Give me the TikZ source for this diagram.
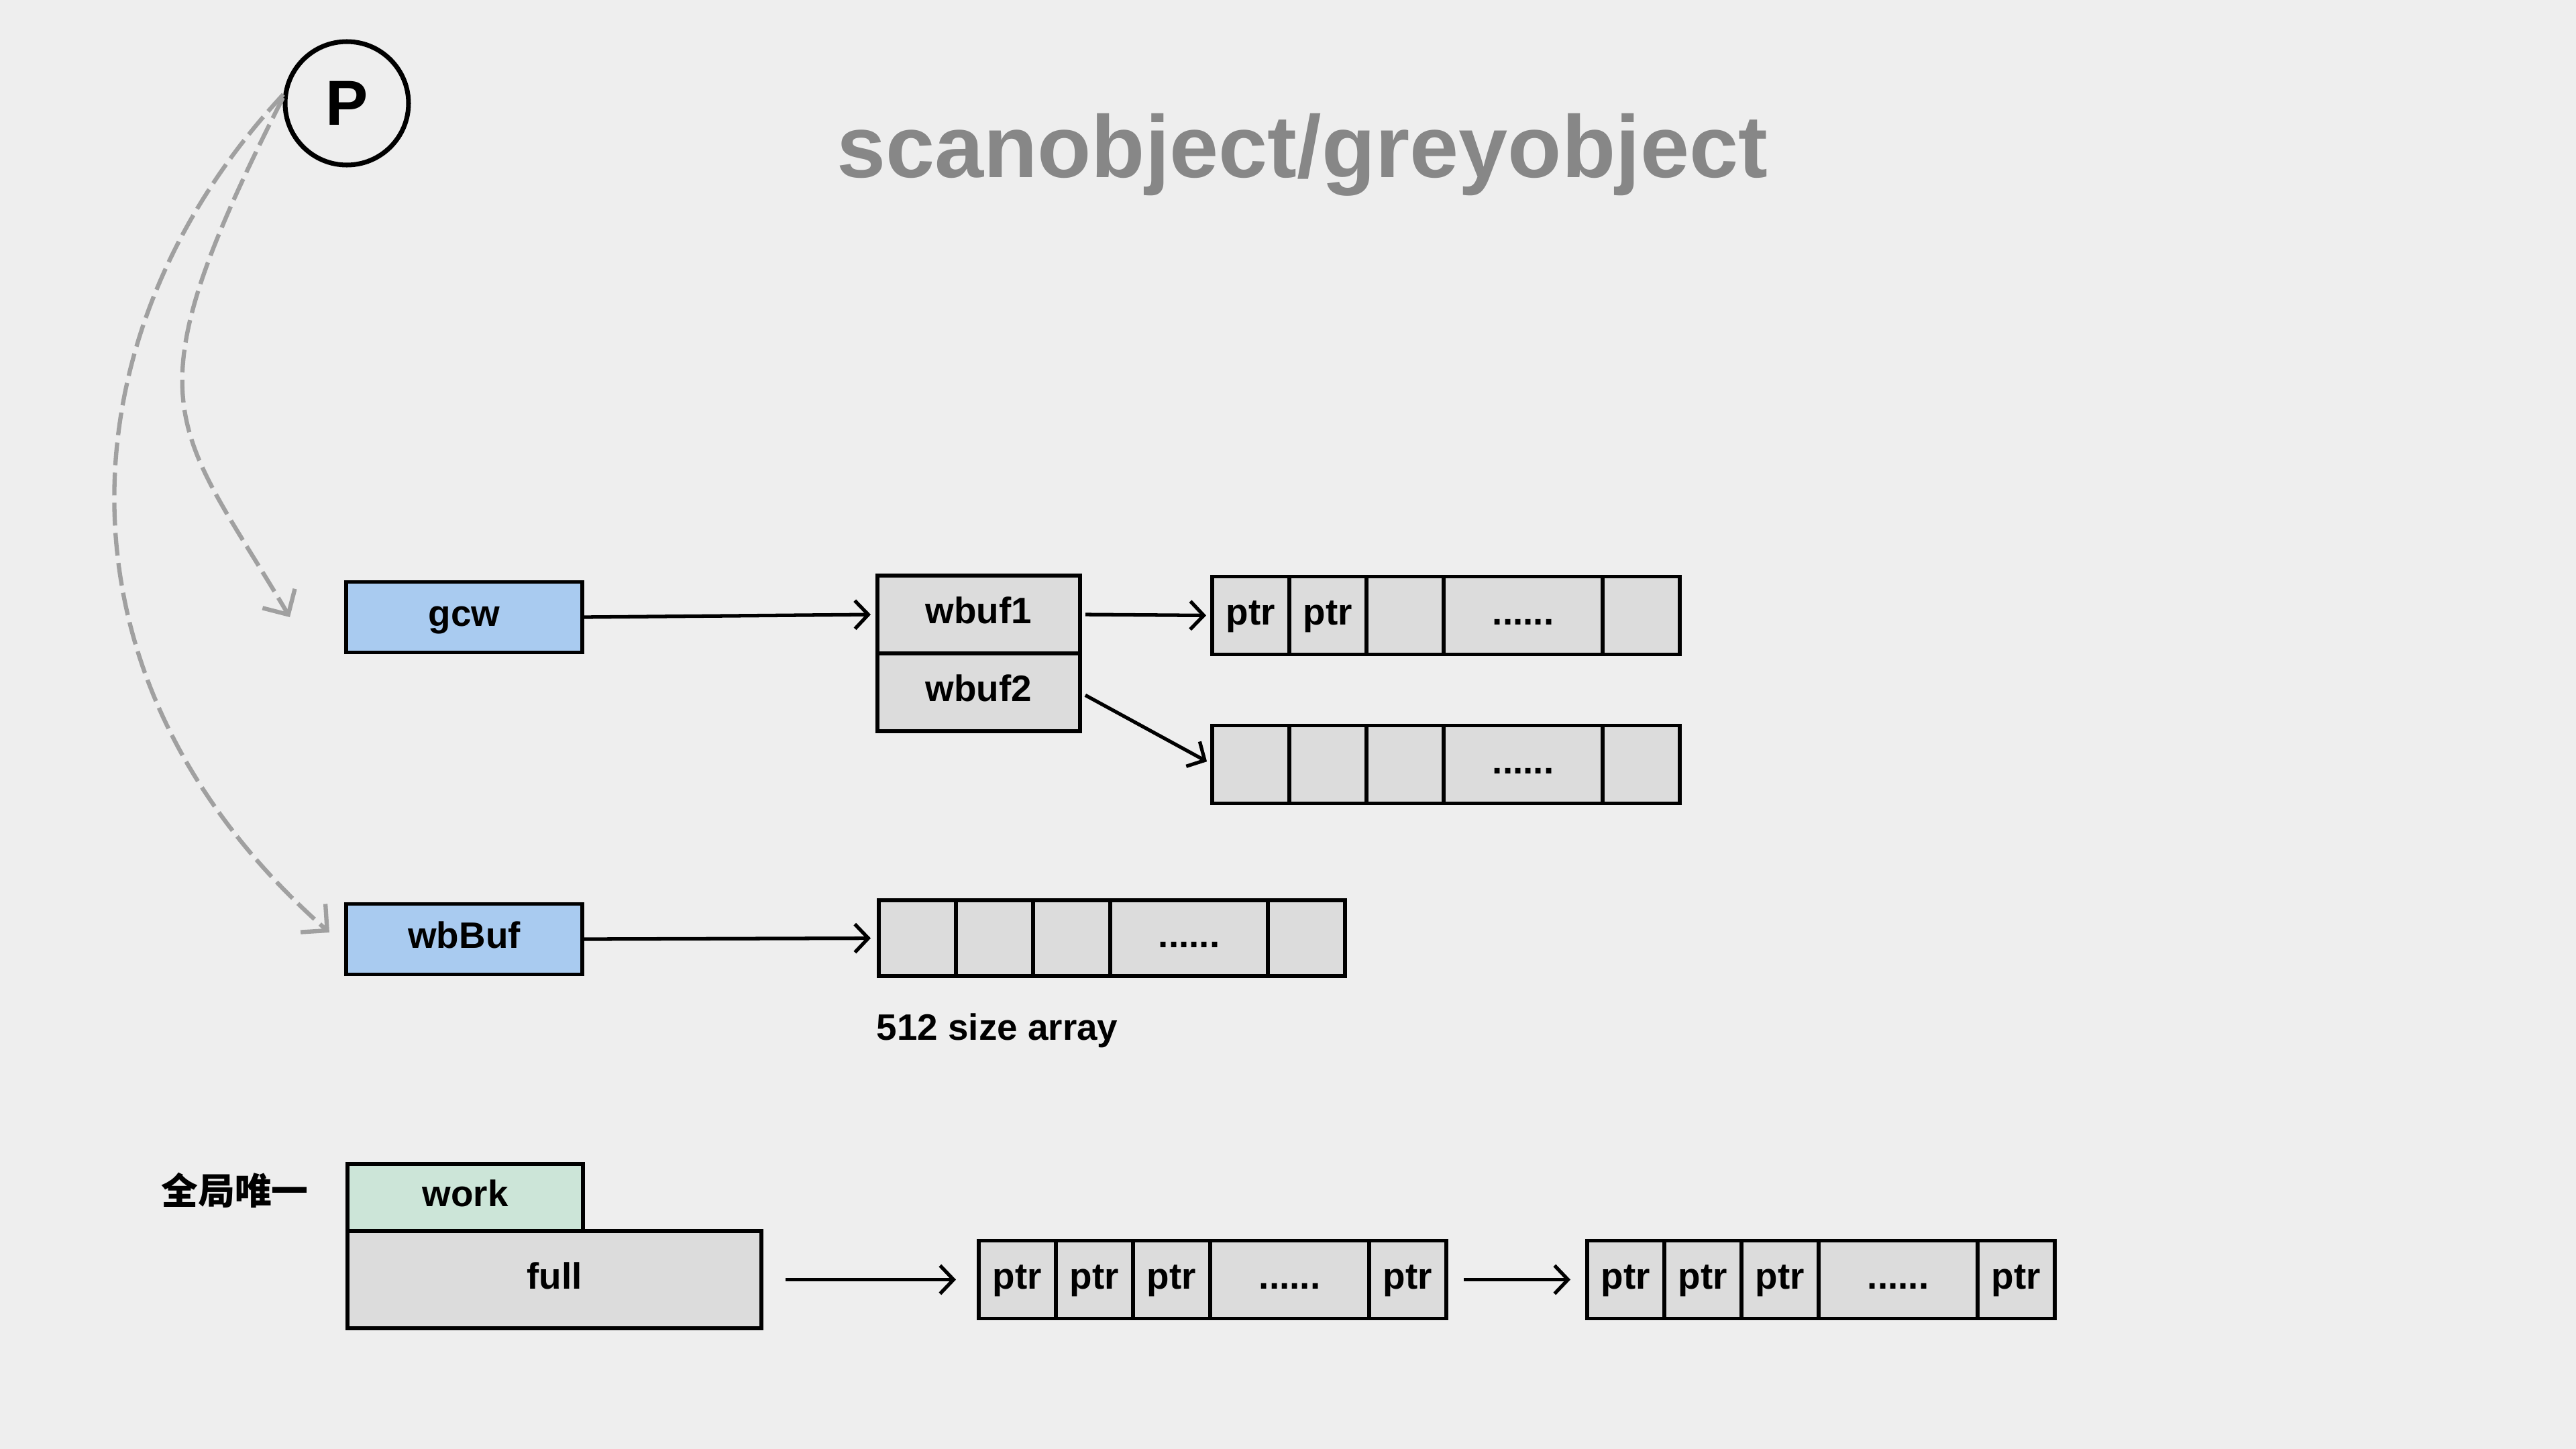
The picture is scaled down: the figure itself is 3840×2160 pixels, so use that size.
\documentclass[tikz,border=0pt]{standalone}
\usepackage{fontspec}
\setmainfont{Liberation Sans}
\newfontfamily\cjk{Noto Sans CJK SC}
\usetikzlibrary{arrows.meta}
\definecolor{bg}{HTML}{EEEEEE}
\definecolor{cellgray}{HTML}{DCDCDC}
\definecolor{boxblue}{HTML}{A9CBF0}
\definecolor{boxgreen}{HTML}{CCE5D8}
\definecolor{titlegray}{HTML}{878787}
\definecolor{dashgray}{HTML}{A0A0A0}
\newcommand\lblfont{\fontsize{15.6}{18}\selectfont\bfseries}
\begin{document}
\begin{tikzpicture}[x=0.1mm,y=-0.1mm,
  box/.style={draw, line width=1.6pt, inner sep=0pt, outer sep=0pt, font=\lblfont,
    text height=11.2pt, text depth=3.3pt},
  cell/.style={box, fill=cellgray, minimum width=11.5mm, minimum height=11.6mm, anchor=west},
  widecell/.style={cell, minimum width=23.7mm},
  arr/.style={line width=1.5pt, -{Straight Barb[length=2mm,width=4.2mm]}},
  parr/.style={draw=dashgray, line width=1.8pt, dash pattern=on 3.4mm off 1.1mm,
    -{Straight Barb[length=2.8mm,width=5.6mm]}}
]
\fill[bg] (0,0) rectangle (3840,2160);
\useasboundingbox (0,0) rectangle (3840,2160);

% title
\node[font=\fontsize{37.4}{44}\selectfont\bfseries, text=titlegray, anchor=base, inner sep=0pt] (title) at (1941,264) {scanobject/greyobject};

% P
\node[circle, draw, line width=2pt, minimum size=18.4mm, inner sep=0pt,
  font=\fontsize{27}{30}\selectfont\bfseries] (P) at (517,154) {P};

% gcw row
\node[box, fill=boxblue, minimum width=35.2mm, minimum height=10.5mm] (gcw) at (692,920) {gcw};
\node[box, fill=cellgray, minimum width=30.2mm, minimum height=11.6mm] (wbuf1) at (1459,916) {wbuf1};
\node[box, fill=cellgray, minimum width=30.2mm, minimum height=11.6mm] (wbuf2) at (1459,1032) {wbuf2};

\node[cell] (a1) at (1807,917.5) {ptr};
\node[cell] (a2) at (a1.east) {ptr};
\node[cell] (a3) at (a2.east) {};
\node[widecell] (a4) at (a3.east) {......};
\node[cell] (a5) at (a4.east) {};

\node[cell] (c1) at (1807,1139.5) {};
\node[cell] (c2) at (c1.east) {};
\node[cell] (c3) at (c2.east) {};
\node[widecell] (c4) at (c3.east) {......};
\node[cell] (c5) at (c4.east) {};

% wbBuf row
\node[box, fill=boxblue, minimum width=35.2mm, minimum height=10.5mm] (wbBuf) at (692,1400) {wbBuf};
\node[cell, minimum height=11.3mm] (d1) at (1310,1398.5) {};
\node[cell, minimum height=11.3mm] (d2) at (d1.east) {};
\node[cell, minimum height=11.3mm] (d3) at (d2.east) {};
\node[widecell, minimum height=11.3mm, minimum width=23.5mm] (d4) at (d3.east) {......};
\node[cell, minimum height=11.3mm] (d5) at (d4.east) {};
\node[anchor=base west, inner sep=0pt, font=\lblfont] (lbl512) at (1306,1550) {512 size array};

% global work/full
\node[font=\cjk\bfseries\fontsize{15.6}{18}\selectfont, inner sep=0pt] (glob) at (350,1774) {全局唯一};
\node[box, fill=boxgreen, minimum width=35.1mm, minimum height=10mm] (work) at (693.5,1785) {work};
\node[box, fill=cellgray, minimum width=61.7mm, minimum height=14.5mm] (full) at (826.5,1907.5) {full};

\node[cell] (b1) at (1459,1907.5) {ptr};
\node[cell] (b2) at (b1.east) {ptr};
\node[cell] (b3) at (b2.east) {ptr};
\node[widecell] (b4) at (b3.east) {......};
\node[cell] (b5) at (b4.east) {ptr};

\node[cell] (e1) at (2366,1907.5) {ptr};
\node[cell] (e2) at (e1.east) {ptr};
\node[cell] (e3) at (e2.east) {ptr};
\node[widecell] (e4) at (e3.east) {......};
\node[cell] (e5) at (e4.east) {ptr};

% connectors
\draw[arr, shorten >=1mm] (gcw.east) -- (wbuf1.west);
\draw[arr, shorten <=0.8mm, shorten >=0.9mm] (wbuf1.east) -- (a1.west);
\draw[arr, shorten <=0.9mm, shorten >=0.9mm] (wbuf2.east) -- (c1.west);
\draw[arr, shorten >=1.2mm] (wbBuf.east) -- (d1.west);
\draw[arr, shorten <=3.6mm, shorten >=3.4mm] (full.east) -- (b1.west);
\draw[arr, shorten <=2.6mm, shorten >=2.5mm] (b5.east) -- (e1.west);

% dashed curves from P
\coordinate (gcwin) at (432,920);
\coordinate (wbin) at (491,1390);
\draw[parr] (P.175) .. controls (186,609) and (259,628) .. (gcwin);
\draw[parr] (P.172) .. controls (96,491) and (56,1007) .. (wbin);
\end{tikzpicture}
\end{document}
